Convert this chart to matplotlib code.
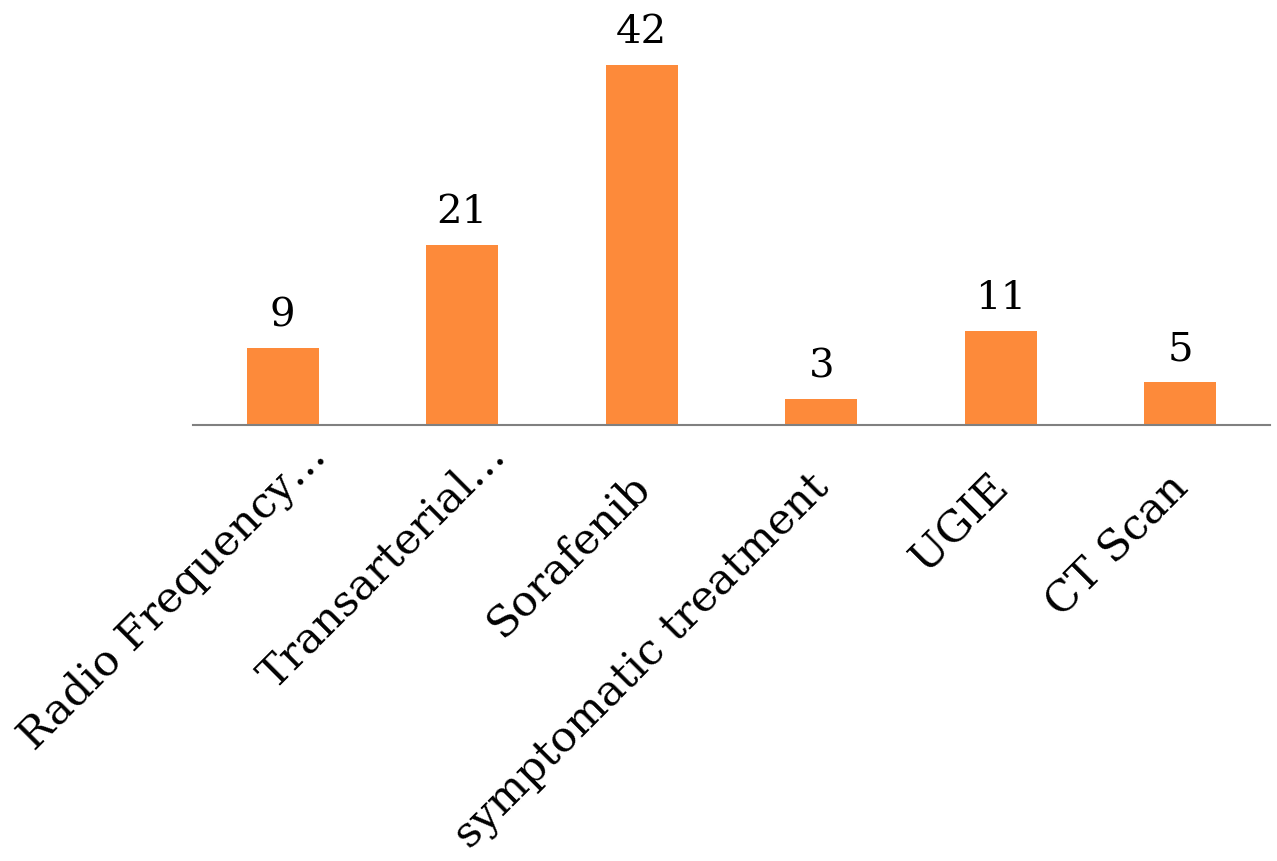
import matplotlib.pyplot as plt
from matplotlib.transforms import ScaledTranslation

# Chart data
categories = ['Radio Frequency…', 'Transarterial…', 'Sorafenib',
              'symptomatic treatment', 'UGIE', 'CT Scan']
counts = [9, 21, 42, 3, 11, 5]

bar_color = '#FD8A3A'

plt.rcParams['font.family'] = ['DejaVu Serif']

fig = plt.figure(figsize=(12.77, 8.61), dpi=100)
ax = fig.add_axes([193 / 1277, 436 / 861, 1077 / 1277, 425 / 861])

x = range(len(categories))
ax.bar(x, counts, width=0.4, color=bar_color)

ax.set_xlim(-0.5, len(categories) - 0.5)
ax.set_ylim(0, 49.6)

# Value labels on top of each bar
for xi, v in zip(x, counts):
    ax.text(xi, v + 1.6, str(v), ha='center', va='bottom', fontsize=29)

ax.set_xticks(list(x))
ax.set_xticklabels(categories, rotation=45, ha='right', rotation_mode='anchor',
                   fontsize=31)
ax.tick_params(axis='x', length=0, pad=8)
ax.set_yticks([])

# nudge the rotated labels down/left, truncated ones a bit further along
for lbl in ax.get_xticklabels():
    dx, dy = -13, -30
    if lbl.get_text().endswith('…'):
        dx, dy = dx + 35, dy + 32
    lbl.set_transform(lbl.get_transform() +
                      ScaledTranslation(dx / 100, dy / 100, fig.dpi_scale_trans))

for side in ['top', 'right', 'left']:
    ax.spines[side].set_visible(False)
ax.spines['bottom'].set_color('#808080')
ax.spines['bottom'].set_linewidth(1.5)

fig.savefig('out.png', dpi=100)
